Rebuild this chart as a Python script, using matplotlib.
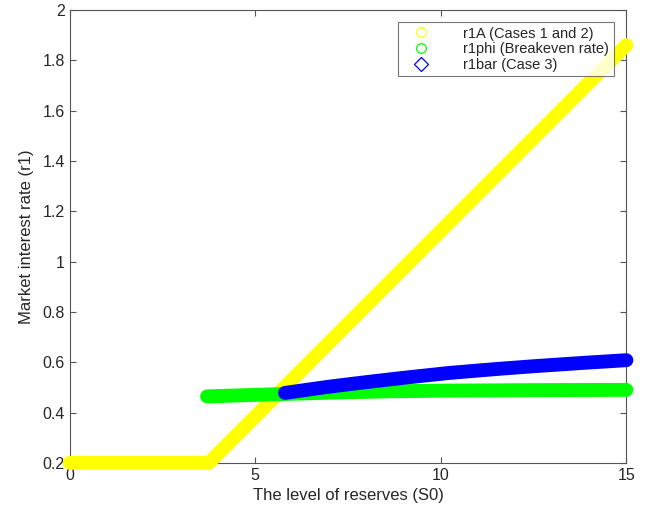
import numpy as np
import matplotlib
matplotlib.use("Agg")
import matplotlib.pyplot as plt
from matplotlib.lines import Line2D

plt.rcParams['font.family'] = ['Liberation Sans', 'DejaVu Sans']

# values
s0_A = [0, 3.75, 15]
r1A = [0.2, 0.2, 1.86]

s0_phi = [3.7, 5.4, 7.0, 8.5, 10.0, 12.5, 15.0]
r1phi = [0.464, 0.472, 0.479, 0.484, 0.487, 0.489, 0.490]

s0_bar = [5.8, 7.0, 8.0, 9.0, 10.2, 11.5, 12.5, 13.8, 15.0]
r1bar = [0.478, 0.503, 0.521, 0.538, 0.557, 0.573, 0.584, 0.597, 0.608]

labels = ['r1A (Cases 1 and 2)', 'r1phi (Breakeven rate)', 'r1bar (Case 3)']
colors = ['#ffff00', '#00ff00', '#0000ff']
markers = ['o', 'o', 'D']

fig = plt.figure(figsize=(6.58, 5.23), dpi=100)
ax = fig.add_axes([0.106, 0.115, 0.846, 0.866])

ax.plot(s0_A, r1A, color=colors[0], lw=10, solid_capstyle='round',
        solid_joinstyle='round', zorder=2, clip_on=False)
ax.plot(s0_phi, r1phi, color=colors[1], lw=10, solid_capstyle='round',
        solid_joinstyle='round', zorder=3, clip_on=False)
ax.plot(s0_bar, r1bar, color=colors[2], lw=10, solid_capstyle='round',
        solid_joinstyle='round', zorder=4, clip_on=False)

ax.set_xlim(0, 15)
ax.set_ylim(0.2, 2)
ax.set_xticks([0, 5, 10, 15])
ax.set_yticks(np.arange(0.2, 2.01, 0.2))
ax.set_yticklabels(['0.2', '0.4', '0.6', '0.8', '1', '1.2', '1.4', '1.6', '1.8', '2'])

grey = '#262626'
for sp in ax.spines.values():
    sp.set_color('#555555')
    sp.set_linewidth(0.8)
    sp.set_zorder(1)
ax.tick_params(direction='in', top=True, right=True, length=4, width=0.8,
               colors='#555555', labelcolor=grey, labelsize=11.5)

ax.set_xlabel('The level of reserves (S0)', fontsize=12, color=grey, labelpad=4)
ax.set_ylabel('Market interest rate (r1)', fontsize=12, color=grey, labelpad=6)

handles = [Line2D([], [], ls='none', marker=m, mfc='none', mec=c, ms=7, mew=0.9)
           for m, c in zip(markers, colors)]
leg = ax.legend(handles, labels, loc='upper right', bbox_to_anchor=(0.977, 0.973),
                fontsize=10.5, frameon=True, fancybox=False, borderpad=0.3,
                labelspacing=0.12, handletextpad=1.6, handlelength=2.6,
                borderaxespad=0)
leg.get_frame().set_edgecolor('#555555')
leg.get_frame().set_linewidth(0.8)
leg.set_zorder(5)
for t in leg.get_texts():
    t.set_color(grey)

fig.savefig('out.png', dpi=100)
